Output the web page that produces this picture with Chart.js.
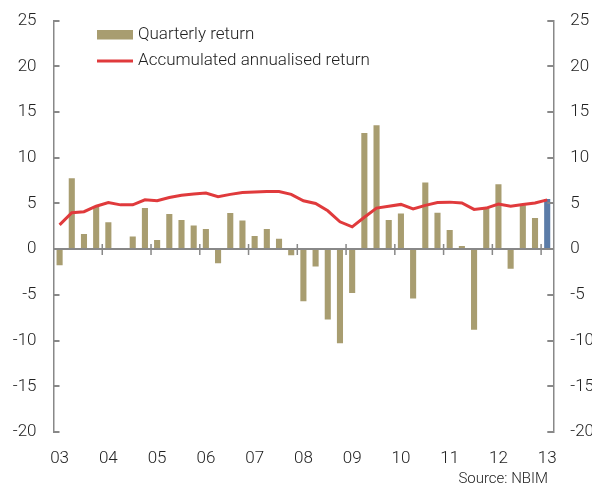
<!DOCTYPE html>
<html>
<head>
<meta charset="utf-8">
<script src="https://cdn.jsdelivr.net/npm/chart.js@4/dist/chart.umd.min.js"></script>
<style>
  html, body { margin: 0; padding: 0; background: #fff; }
  #chart { display: block; }
</style>
</head>
<body>
<canvas id="chart" width="592" height="492"></canvas>
<script>
// Quarters 2003 Q1 - 2013 Q1
const quarters = [
  '03Q1','03Q2','03Q3','03Q4','04Q1','04Q2','04Q3','04Q4',
  '05Q1','05Q2','05Q3','05Q4','06Q1','06Q2','06Q3','06Q4',
  '07Q1','07Q2','07Q3','07Q4','08Q1','08Q2','08Q3','08Q4',
  '09Q1','09Q2','09Q3','09Q4','10Q1','10Q2','10Q3','10Q4',
  '11Q1','11Q2','11Q3','11Q4','12Q1','12Q2','12Q3','12Q4',
  '13Q1'
];

// Quarterly return, percent
const quarterlyReturn = [
  -1.75, 7.75, 1.65, 4.65, 2.95, -0.1, 1.4, 4.5,
  1.0, 3.85, 3.2, 2.6, 2.2, -1.55, 3.95, 3.15,
  1.45, 2.2, 1.15, -0.65, -5.7, -1.9, -7.7, -10.3,
  -4.8, 12.7, 13.55, 3.2, 3.9, -5.4, 7.3, 4.0,
  2.1, 0.35, -8.8, 4.5, 7.1, -2.15, 4.8, 3.4,
  5.5
];

// Accumulated annualised return, percent
const accumulatedReturn = [
  2.66, 4.0, 4.1, 4.7, 5.1, 4.85, 4.85, 5.4,
  5.3, 5.65, 5.9, 6.05, 6.15, 5.75, 6.0, 6.2,
  6.25, 6.3, 6.3, 6.0, 5.3, 5.0, 4.2, 3.0,
  2.45, 3.5, 4.5, 4.7, 4.9, 4.4, 4.8, 5.1,
  5.15, 5.05, 4.35, 4.5, 4.95, 4.7, 4.9, 5.05,
  5.4
];

const yTicks = { min: -20, max: 25, step: 5 };

const COLORS = {
  bar: '#a89d70',
  latest: '#5b7ca8',
  line: '#e03a3c',
  axis: '#888888',
  text: '#222222',
};

const FONT = { family: 'Roboto, "Liberation Sans", sans-serif', size: 17, weight: '300' };

const yearLabel = (i) => quarters[i].endsWith('Q1') ? quarters[i].slice(0, 2) : '';

// zero line with year ticks, inner axis ticks, legend and source
const decorations = {
  id: 'decorations',
  afterDraw(chart) {
    const ctx = chart.ctx;
    const x = chart.scales.x, y = chart.scales.y, y2 = chart.scales.y2;
    const left = y.right, right = y2.left;
    const zero = Math.round(y.getPixelForValue(0));
    const half = (x.getPixelForValue(1) - x.getPixelForValue(0)) / 2;

    ctx.save();
    ctx.fillStyle = COLORS.axis;
    ctx.fillRect(left, zero - 1, right - left, 2);

    quarters.forEach((q, i) => {
      if (i === 0 || !q.endsWith('Q1')) return;
      const px = x.getPixelForValue(i) - half;
      ctx.fillRect(px - 0.75, zero - 5, 1.5, 11);
    });

    for (let v = yTicks.min; v <= yTicks.max; v += yTicks.step) {
      const py = Math.round(y.getPixelForValue(v));
      ctx.fillRect(left, py - 1, 6, 2);
      ctx.fillRect(right - 6, py - 1, 6, 2);
    }

    const ds = chart.data.datasets;
    ctx.font = `${FONT.weight} ${FONT.size}px ${FONT.family}`;
    ctx.textBaseline = 'middle';
    ctx.textAlign = 'left';

    ctx.fillStyle = COLORS.bar;
    ctx.fillRect(97, 30, 36, 9.5);
    ctx.fillStyle = COLORS.text;
    ctx.fillText(ds[0].label, 138, 35);

    ctx.fillStyle = ds[1].borderColor;
    ctx.fillRect(97, 59.5, 36, 3);
    ctx.fillStyle = COLORS.text;
    ctx.fillText(ds[1].label, 138, 61);

    ctx.font = `${FONT.weight} 15px ${FONT.family}`;
    ctx.textAlign = 'right';
    ctx.fillText('Source: NBIM', 548, 479);
    ctx.restore();
  }
};

const yAxis = (position, width) => ({
  type: 'linear',
  position,
  min: yTicks.min,
  max: yTicks.max,
  grid: { display: false, drawTicks: false },
  border: { display: true, color: COLORS.axis, width: 1.5 },
  ticks: { stepSize: yTicks.step, padding: 17, color: COLORS.text, font: FONT },
  afterFit(scale) {
    scale.width = width;
    scale.paddingTop = 0;
    scale.paddingBottom = 0;
  }
});

new Chart(document.getElementById('chart').getContext('2d'), {
  data: {
    labels: quarters,
    datasets: [
      {
        type: 'bar',
        label: 'Quarterly return',
        data: quarterlyReturn,
        backgroundColor: quarterlyReturn.map((_, i) => i === quarters.length - 1 ? COLORS.latest : COLORS.bar),
        barPercentage: 0.5,
        categoryPercentage: 1.0,
        yAxisID: 'y',
        order: 2
      },
      {
        type: 'line',
        label: 'Accumulated annualised return',
        data: accumulatedReturn,
        borderColor: COLORS.line,
        borderWidth: 3,
        pointRadius: 0,
        tension: 0,
        yAxisID: 'y',
        order: 1
      }
    ]
  },
  options: {
    responsive: false,
    devicePixelRatio: 1,
    animation: false,
    layout: { padding: { top: 20.7, left: 0, right: 0, bottom: 0 } },
    plugins: {
      legend: { display: false },
      tooltip: { enabled: false }
    },
    scales: {
      x: {
        type: 'category',
        offset: true,
        grid: { display: false, drawTicks: false },
        border: { display: false },
        ticks: {
          autoSkip: false,
          maxRotation: 0,
          padding: 17,
          color: COLORS.text,
          font: FONT,
          callback: (v, i) => yearLabel(i)
        },
        afterFit(scale) {
          scale.height = 60;
          scale.paddingLeft = 0;
          scale.paddingRight = 0;
        }
      },
      y: yAxis('left', 53.5),
      y2: yAxis('right', 38.7)
    }
  },
  plugins: [decorations]
});
</script>
</body>
</html>
